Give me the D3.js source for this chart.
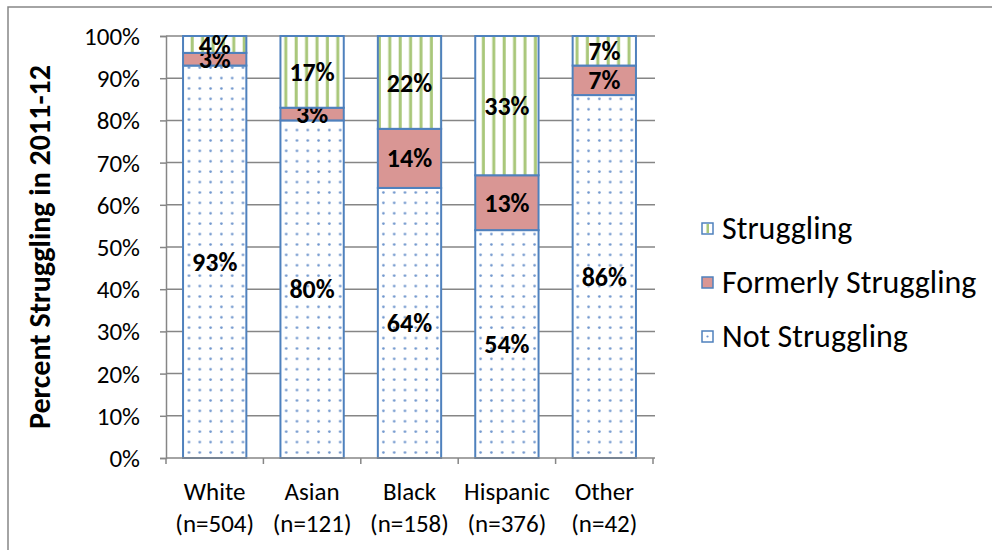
<!DOCTYPE html>
<html>
<head>
<meta charset="utf-8">
<script src="https://cdn.jsdelivr.net/npm/d3@7"></script>
<style>
  html, body { margin: 0; padding: 0; background: #fff; }
  svg { display: block; font-family: Carlito, Calibri, Lato, "Open Sans", sans-serif; }
</style>
</head>
<body>
<svg id="chart" width="992" height="550"></svg>
<script>
// Race/ethnicity groups and sample sizes
const categories = ["White", "Asian", "Black", "Hispanic", "Other"];
const sampleSizes = ["(n=504)", "(n=121)", "(n=158)", "(n=376)", "(n=42)"];

// Percent of students in each status, stacked bottom to top
const notStruggling = [93, 80, 64, 54, 86];
const formerlyStruggling = [3, 3, 14, 13, 7];
const struggling = [4, 17, 22, 33, 7];

const seriesNames = ["Not Struggling", "Formerly Struggling", "Struggling"];
const yTicks = [0, 10, 20, 30, 40, 50, 60, 70, 80, 90, 100];

const svg = d3.select("#chart");
const margin = { left: 166, right: 339, top: 36, bottom: 92 };
const W = 992, H = 550;
const x0 = margin.left, x1 = W - margin.right;
const yTop = margin.top, yBot = H - margin.bottom;

const gridColor = "#868686";
const barStroke = "#4f81bd";

// Fill patterns
const defs = svg.append("defs");
const dots = defs.append("pattern")
  .attr("id", "dots").attr("patternUnits", "userSpaceOnUse")
  .attr("width", 10.8).attr("height", 10.4);
dots.append("rect").attr("width", 10.8).attr("height", 10.4).attr("fill", "#fff");
dots.append("circle").attr("cx", 5.4).attr("cy", 5.2).attr("r", 1.3).attr("fill", "#6d94cc");

const stripes = defs.append("pattern")
  .attr("id", "stripes").attr("patternUnits", "userSpaceOnUse")
  .attr("width", 10.4).attr("height", 10);
stripes.append("rect").attr("width", 10.4).attr("height", 10).attr("fill", "#fff");
stripes.append("rect").attr("x", 3.5).attr("width", 3).attr("height", 10).attr("fill", "#a9c77a");

const fills = {
  "Not Struggling": "url(#dots)",
  "Formerly Struggling": "#d99694",
  "Struggling": "url(#stripes)"
};

// Chart frame
svg.append("rect")
  .attr("x", 8).attr("y", 7).attr("width", 1000).attr("height", 600)
  .attr("fill", "none").attr("stroke", gridColor).attr("stroke-width", 1.5);

// Scales
const x = d3.scaleBand().domain(categories).range([x0, x1])
  .paddingInner(0.35).paddingOuter(0.175);
const y = d3.scaleLinear().domain([0, 100]).range([yBot, yTop]);

// Gridlines
svg.append("g").selectAll("line").data(yTicks.filter(d => d > 0)).join("line")
  .attr("x1", x0).attr("x2", x1 + 2)
  .attr("y1", d => y(d)).attr("y2", d => y(d))
  .attr("stroke", gridColor).attr("stroke-width", 1.5);

// Y axis
const yAxis = svg.append("g").attr("transform", `translate(${x0},0)`)
  .call(d3.axisLeft(y).tickValues(yTicks).tickFormat(d => d + "%").tickSize(6).tickPadding(20));
yAxis.select(".domain").attr("stroke", gridColor).attr("stroke-width", 1.5);
yAxis.selectAll(".tick line").attr("stroke", gridColor).attr("stroke-width", 1.5);
yAxis.selectAll(".tick text").attr("fill", "#000").style("font-size", "25px")
  .style("font-family", "Carlito, Calibri, Lato, sans-serif").attr("dy", "0.34em");

// Stacked bars
const rows = categories.map((c, i) => ({
  cat: c,
  "Not Struggling": notStruggling[i],
  "Formerly Struggling": formerlyStruggling[i],
  "Struggling": struggling[i]
}));
const stacked = d3.stack().keys(seriesNames)(rows);

const layers = svg.append("g").selectAll("g").data(stacked).join("g");
layers.selectAll("rect").data(s => s.map(d => ({ key: s.key, d }))).join("rect")
  .attr("x", v => x(v.d.data.cat))
  .attr("width", x.bandwidth())
  .attr("y", v => y(v.d[1]))
  .attr("height", v => y(v.d[0]) - y(v.d[1]))
  .attr("fill", v => fills[v.key])
  .attr("stroke", barStroke).attr("stroke-width", 2);

// Segment value labels
layers.selectAll("text").data(s => s.map(d => ({ key: s.key, d }))).join("text")
  .attr("x", v => x(v.d.data.cat) + x.bandwidth() / 2)
  .attr("y", v => y((v.d[0] + v.d[1]) / 2))
  .attr("dy", "0.35em")
  .attr("text-anchor", "middle")
  .style("font-size", "26px").style("font-weight", "bold")
  .text(v => (v.d[1] - v.d[0]) + "%");

// X axis
const xAxis = svg.append("g").attr("transform", `translate(0,${yBot})`);
xAxis.append("line").attr("x1", x0).attr("x2", x1 + 2)
  .attr("stroke", gridColor).attr("stroke-width", 1.5);
const bounds = d3.range(categories.length + 1).map(i => x0 + i * (x1 - x0) / categories.length);
xAxis.selectAll(".tickb").data(bounds).join("line").attr("class", "tickb")
  .attr("x1", d => d).attr("x2", d => d).attr("y1", 0).attr("y2", 6)
  .attr("stroke", gridColor).attr("stroke-width", 1.5);
const catLabels = xAxis.selectAll(".cat").data(categories).join("text").attr("class", "cat")
  .attr("x", d => x(d) + x.bandwidth() / 2)
  .attr("text-anchor", "middle").style("font-size", "25px");
catLabels.append("tspan").attr("x", d => x(d) + x.bandwidth() / 2).attr("y", 42).text(d => d);
catLabels.append("tspan").attr("x", d => x(d) + x.bandwidth() / 2).attr("y", 74)
  .text((d, i) => sampleSizes[i]);

// Y axis title
svg.append("text")
  .attr("transform", `translate(50,${(yTop + yBot) / 2}) rotate(-90)`)
  .attr("text-anchor", "middle")
  .style("font-size", "30px").style("font-weight", "bold")
  .text("Percent Struggling in 2011-12");

// Legend
const legendItems = ["Struggling", "Formerly Struggling", "Not Struggling"];
const legend = svg.append("g").selectAll("g").data(legendItems).join("g")
  .attr("transform", (d, i) => `translate(702,${228 + i * 54})`);
legend.append("rect").attr("x", 0).attr("y", -5).attr("width", 11).attr("height", 11)
  .attr("fill", d => d === "Formerly Struggling" ? "#d99694" : "#fff")
  .attr("stroke", barStroke).attr("stroke-width", 1.5);
legend.filter(d => d === "Struggling").append("rect")
  .attr("x", 4.5).attr("y", -4).attr("width", 2.5).attr("height", 9).attr("fill", "#a9c77a");
legend.filter(d => d === "Not Struggling").append("circle")
  .attr("cx", 5.5).attr("cy", 0.5).attr("r", 1.1).attr("fill", "#6d94cc");
legend.append("text").attr("x", 20).attr("y", 0).attr("dy", "0.35em")
  .style("font-size", "32px").text(d => d);
</script>
</body>
</html>
